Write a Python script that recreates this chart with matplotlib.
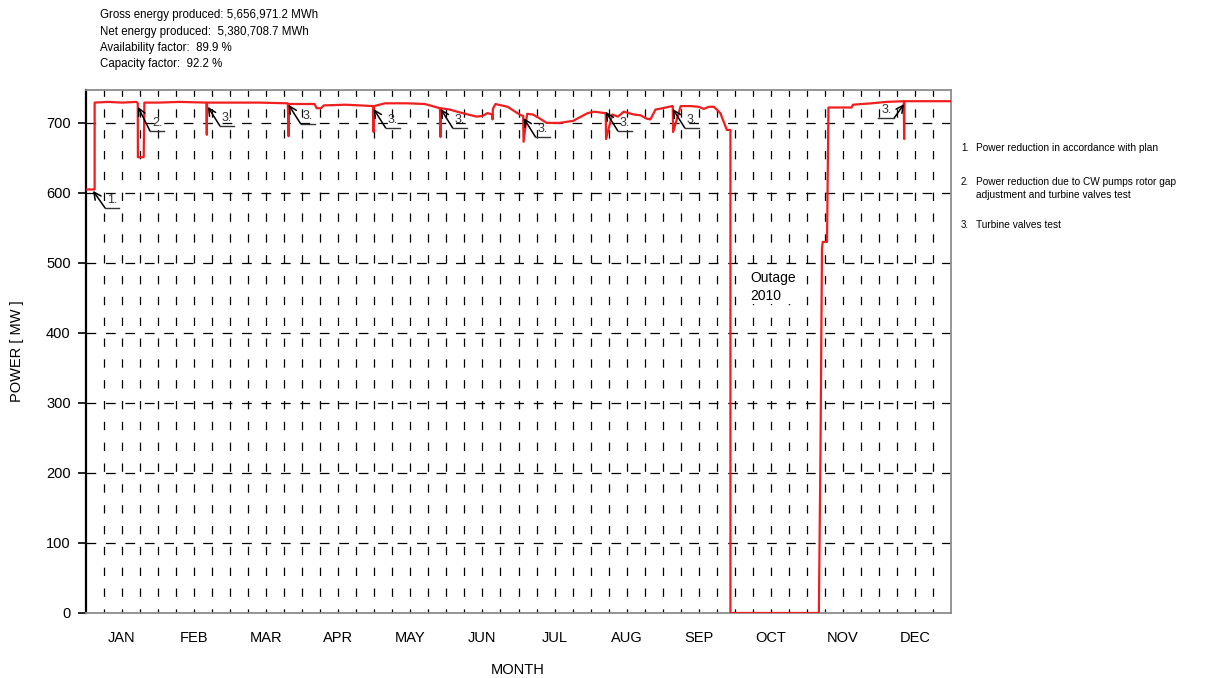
import matplotlib
matplotlib.use("Agg")
import matplotlib.pyplot as plt
import numpy as np

plt.rcParams["font.family"] = ["Liberation Sans", "DejaVu Sans"]
plt.rcParams["lines.scale_dashes"] = False

# power curve: position in months (0 = 1 Jan, 12 = 31 Dec) and MW
months_pos = [0.00, 0.12, 0.12, 0.30, 0.50, 0.70, 0.718, 0.72, 0.80, 0.81, 1.00, 1.30,
              1.67, 1.676, 1.68, 2.00, 2.40, 2.80, 2.81, 2.815, 3.00, 3.17, 3.20, 3.26,
              3.30, 3.60, 3.80, 3.985, 3.99, 3.995, 4.15, 4.45, 4.70, 4.91, 4.917, 4.922,
              5.05, 5.15, 5.30, 5.42, 5.50, 5.57, 5.635, 5.64, 5.645, 5.68, 5.85, 6.03,
              6.065, 6.07, 6.12, 6.20, 6.30, 6.39, 6.57, 6.76, 6.96, 7.05, 7.20, 7.21,
              7.215, 7.30, 7.38, 7.46, 7.60, 7.69, 7.78, 7.83, 7.90, 8.00, 8.13, 8.14,
              8.145, 8.25, 8.39, 8.50, 8.57, 8.64, 8.71, 8.80, 8.89, 8.94, 8.94, 10.167,
              10.19, 10.21, 10.22, 10.28, 10.30, 10.50, 10.62, 10.64, 10.90, 11.10,
              11.345, 11.35, 11.355, 11.70, 12.00]
power_mw = [605, 605, 729, 730, 729, 730, 728, 651, 651, 729, 729, 730,
            729, 683, 729, 729, 729, 728, 681, 727, 727, 727, 721, 721,
            725, 726, 725, 724, 687, 724, 728, 728, 727, 721, 680, 721,
            719, 716, 712, 709, 710, 714, 712, 705, 720, 727, 723, 711,
            710, 673, 713, 712, 706, 700, 700, 703, 714, 716, 714, 714,
            677, 712, 709, 716, 712, 711, 706, 705, 719, 721, 724, 724,
            687, 724, 724, 723, 720, 723, 723, 714, 690, 690, 0, 0,
            240, 520, 530, 530, 722, 722, 722, 726, 728, 730,
            731, 677, 731, 731, 731]

month_names = ["JAN", "FEB", "MAR", "APR", "MAY", "JUN",
               "JUL", "AUG", "SEP", "OCT", "NOV", "DEC"]
y_ticks = [0, 100, 200, 300, 400, 500, 600, 700]

# annotation tips (month pos, MW) and labels
note_labels = ["1.", "2.", "3.", "3.", "3.", "3.", "3.", "3.", "3.", "3."]
note_pos = [0.097, 0.72, 1.69, 2.81, 3.99, 4.92, 6.07, 7.21, 8.14, 11.35]
note_mw = [603, 723, 723, 726, 720, 720, 707, 716, 720, 727]

header = ["Gross energy produced: 5,656,971.2 MWh",
          "Net energy produced:  5,380,708.7 MWh",
          "Availability factor:  89.9 %",
          "Capacity factor:  92.2 %"]
notes = [("1.", "Power reduction in accordance with plan"),
         ("2.", "Power reduction due to CW pumps rotor gap\nadjustment and turbine valves test"),
         ("3.", "Turbine valves test")]

fig = plt.figure(figsize=(12.17, 6.78), dpi=100)
ax = fig.add_axes([86 / 1217, 1 - 613 / 678, 865 / 1217, 523 / 678])
ax.set_xlim(0, 12)
ax.set_ylim(0, 747)

# grid
for q in np.arange(0.25, 12, 0.25):
    ax.plot([q, q], [0, 747], color="black", lw=0.9, ls=(3, (6, 9)), zorder=1)
for yv in y_ticks[1:]:
    ax.plot([0, 12], [yv, yv], color="black", lw=0.9, ls=(0, (7, 7)), zorder=1)

ax.plot(months_pos, power_mw, color="#f01e1e", lw=1.6, zorder=3)

ax.set_yticks(y_ticks)
ax.set_yticklabels([str(v) for v in y_ticks], fontsize=10.5)
ax.tick_params(axis="y", direction="out", length=6, width=1.2, pad=5)
ax.set_xticks([])
ax.set_xticks(np.arange(0.5, 12, 1), minor=True)
ax.set_xticklabels(month_names, minor=True, fontsize=10.5)
ax.tick_params(axis="x", which="minor", length=0, pad=13)

ax.spines["left"].set_color("black")
ax.spines["left"].set_linewidth(1.6)
for s in ["top", "right", "bottom"]:
    ax.spines[s].set_color("#8c8c8c")
    ax.spines[s].set_linewidth(1.3)

ax.set_ylabel("POWER [ MW ]", fontsize=10.5, labelpad=16)
fig.text(518 / 1217, 1 - 670 / 678, "MONTH", fontsize=10.5, ha="center", va="center")

# callouts: arrow to the curve, then a short underline carrying the label
fig.canvas.draw()
to_data = ax.transData.inverted()
for i, (lab, px, mw) in enumerate(zip(note_labels, note_pos, note_mw)):
    tip = ax.transData.transform((px, mw))
    if i == len(note_labels) - 1:
        elbow = tip + np.array([-10, -14])
        end = elbow + np.array([-16, 0])
        txt = end + np.array([3, 2])
    else:
        elbow = tip + np.array([12, -19 if i != 1 else -24])
        if i == 0:
            elbow = tip + np.array([12, -17])
        end = elbow + np.array([14, 0])
        txt = elbow + np.array([2, 2])
    e = to_data.transform(elbow)
    n = to_data.transform(end)
    t = to_data.transform(txt)
    ax.annotate("", xy=(px, mw), xytext=tuple(e),
                arrowprops=dict(arrowstyle="->", color="black", lw=1.1,
                                shrinkA=0, shrinkB=0, mutation_scale=13),
                zorder=5)
    ax.plot([e[0], n[0]], [e[1], n[1]], color="#333333", lw=1.0, zorder=5)
    ax.text(t[0], t[1], lab, fontsize=9, color="#333333", ha="left", va="bottom", zorder=5)

ax.text(9.22, 466, "Outage\n2010", fontsize=10, ha="left", va="center", linespacing=1.4,
        zorder=4, bbox=dict(facecolor="white", edgecolor="none", pad=1))

for k, line in enumerate(header):
    fig.text(100 / 1217, 1 - (15 + 16.5 * k) / 678, line, fontsize=8.3, va="center")

note_y = [148, 177, 225]
for (num, body), yy in zip(notes, note_y):
    fig.text(961 / 1217, 1 - yy / 678, num, fontsize=7, va="top" if "\n" in body else "center")
    fig.text(976 / 1217, 1 - yy / 678, body, fontsize=7.3,
             va="top" if "\n" in body else "center", linespacing=1.4)

fig.savefig("out.png", dpi=100)
